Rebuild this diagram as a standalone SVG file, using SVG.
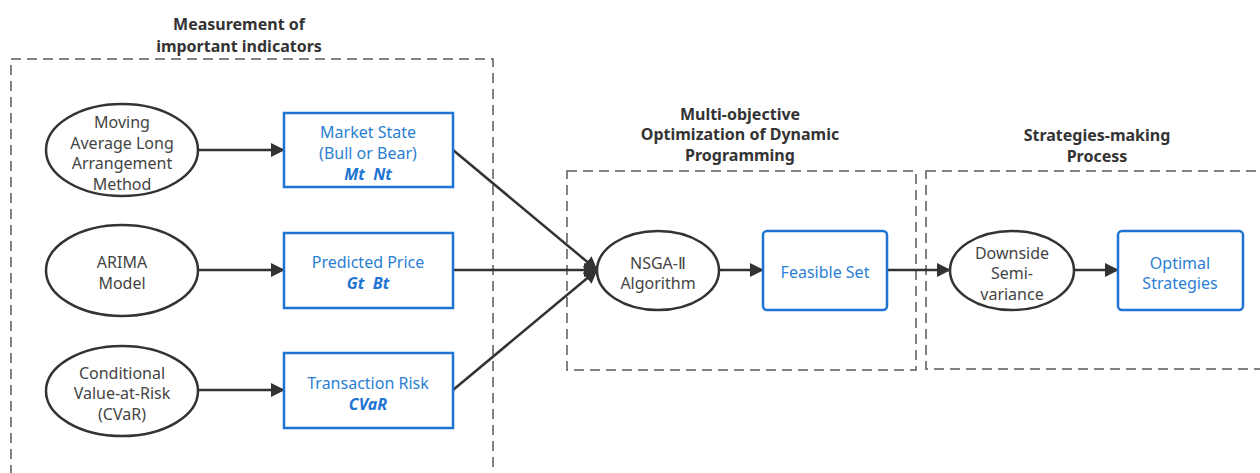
<svg xmlns="http://www.w3.org/2000/svg" width="1260" height="473" viewBox="0 0 1260 473">
<defs>
<style>
.grp{fill:none;stroke:#5a5a5a;stroke-width:1.5;stroke-dasharray:10 6}
.title{font-family:"Noto Sans","Open Sans",sans-serif;font-size:16px;font-weight:bold;fill:#333;text-anchor:middle}
.ell{fill:#fff;stroke:#333;stroke-width:2.5}
.box{fill:#fff;stroke:#1e74d2;stroke-width:2.5}
.et{font-family:"Noto Sans","Open Sans",sans-serif;font-size:16px;fill:#444;text-anchor:middle}
.bt{font-family:"Noto Sans","Open Sans",sans-serif;font-size:16px;fill:#2a7fd4;text-anchor:middle}
.bi{font-weight:bold;font-style:italic;fill:#1e74d2}
.edge{fill:none;stroke:#333;stroke-width:2.5}
</style>
<marker id="arr" markerUnits="userSpaceOnUse" markerWidth="16" markerHeight="14" refX="13" refY="7" orient="auto">
<path d="M0,0 L14,7 L0,14 z" fill="#333"/>
</marker>
</defs>
<rect width="1260" height="473" fill="#fff"/>

<g id="group-measurement">
<rect class="grp" x="11" y="59" width="482" height="430"/>
<text class="title" x="239" y="30">Measurement of</text>
<text class="title" x="239" y="52">important indicators</text>
</g>
<g id="group-optimization">
<rect class="grp" x="567" y="171" width="349" height="199"/>
<text class="title" x="740" y="120">Multi-objective</text>
<text class="title" x="740" y="140">Optimization of Dynamic</text>
<text class="title" x="740" y="161">Programming</text>
</g>
<g id="group-strategies">
<rect class="grp" x="926" y="171" width="350" height="198"/>
<text class="title" x="1097" y="141">Strategies-making</text>
<text class="title" x="1097" y="162">Process</text>
</g>

<g id="connectors">
<line class="edge" x1="198" y1="150" x2="284" y2="150" marker-end="url(#arr)"/>
<line class="edge" x1="198" y1="270" x2="284" y2="270" marker-end="url(#arr)"/>
<line class="edge" x1="198" y1="390" x2="284" y2="390" marker-end="url(#arr)"/>
<line class="edge" x1="453" y1="150" x2="597" y2="270" marker-end="url(#arr)"/>
<line class="edge" x1="453" y1="270" x2="597" y2="270" marker-end="url(#arr)"/>
<line class="edge" x1="453" y1="390" x2="597" y2="270" marker-end="url(#arr)"/>
<line class="edge" x1="719" y1="270" x2="763" y2="270" marker-end="url(#arr)"/>
<line class="edge" x1="887" y1="270" x2="950" y2="270" marker-end="url(#arr)"/>
<line class="edge" x1="1074" y1="270" x2="1118" y2="270" marker-end="url(#arr)"/>
</g>

<g id="node-moving-average">
<ellipse class="ell" cx="122" cy="150" rx="76" ry="46"/>
<text class="et" x="122" y="128">Moving</text>
<text class="et" x="122" y="149">Average Long</text>
<text class="et" x="122" y="169">Arrangement</text>
<text class="et" x="122" y="190">Method</text>
</g>
<g id="node-arima">
<ellipse class="ell" cx="122" cy="270.5" rx="76" ry="45.5"/>
<text class="et" x="122" y="268">ARIMA</text>
<text class="et" x="122" y="289">Model</text>
</g>
<g id="node-cvar">
<ellipse class="ell" cx="122" cy="391" rx="76" ry="45"/>
<text class="et" x="122" y="379">Conditional</text>
<text class="et" x="122" y="399">Value-at-Risk</text>
<text class="et" x="122" y="420">(CVaR)</text>
</g>
<g id="node-market-state">
<rect class="box" x="284" y="113" width="169" height="74"/>
<text class="bt" x="368" y="138">Market State</text>
<text class="bt" x="368" y="159">(Bull or Bear)</text>
<text class="bt bi" x="368" y="180" xml:space="preserve">Mt  Nt</text>
</g>
<g id="node-predicted-price">
<rect class="box" x="284" y="233" width="169" height="75"/>
<text class="bt" x="368" y="268">Predicted Price</text>
<text class="bt bi" x="368" y="289" xml:space="preserve">Gt  Bt</text>
</g>
<g id="node-transaction-risk">
<rect class="box" x="284" y="353" width="169" height="75"/>
<text class="bt" x="368" y="389">Transaction Risk</text>
<text class="bt bi" x="368" y="410">CVaR</text>
</g>
<g id="node-nsga">
<ellipse class="ell" cx="658" cy="270.5" rx="61" ry="39.5"/>
<text class="et" x="658" y="269">NSGA-Ⅱ</text>
<text class="et" x="658" y="289">Algorithm</text>
</g>
<g id="node-feasible-set">
<rect class="box" x="763" y="231" width="124" height="79" rx="4"/>
<text class="bt" x="825" y="278">Feasible Set</text>
</g>
<g id="node-downside">
<ellipse class="ell" cx="1012" cy="270.5" rx="62" ry="39.5"/>
<text class="et" x="1012" y="259">Downside</text>
<text class="et" x="1012" y="279">Semi-</text>
<text class="et" x="1012" y="300">variance</text>
</g>
<g id="node-optimal">
<rect class="box" x="1118" y="231" width="125" height="79" rx="4"/>
<text class="bt" x="1180" y="269">Optimal</text>
<text class="bt" x="1180" y="289">Strategies</text>
</g>
</svg>
